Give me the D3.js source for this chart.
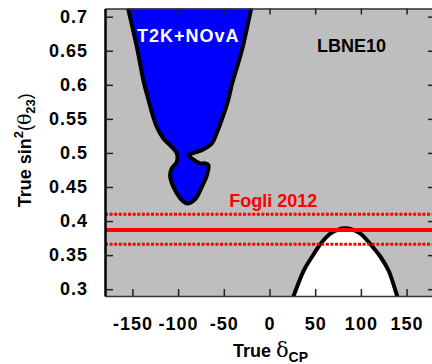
<!DOCTYPE html>
<html>
<head>
<meta charset="utf-8">
<script src="https://cdn.jsdelivr.net/npm/d3@7"></script>
<style>
  body { margin: 0; background: #fff; }
  text { font-family: "Liberation Sans", Arial, sans-serif; font-weight: bold; }
</style>
</head>
<body>
<svg width="432" height="364"></svg>
<script>
let svg = d3.select("svg");

// --- data ---
let x_ticks = [-150, -100, -50, 0, 50, 100, 150];
let y_ticks = [0.3, 0.35, 0.4, 0.45, 0.5, 0.55, 0.6, 0.65, 0.7];

// T2K+NOvA allowed region, [delta_cp, sin2theta23], clockwise from top-left
let t2k_nova = [
  [-156, 0.72], [-154.5, 0.7108], [-144.4, 0.6507], [-137.3, 0.6023],
  [-132.3, 0.5774], [-128.5, 0.5583], [-123.3, 0.5382], [-116.1, 0.5212],
  [-106.9, 0.5089], [-101.4, 0.4992], [-101.4, 0.4869], [-106.9, 0.4772],
  [-108.8, 0.4674], [-105.2, 0.4503], [-98.0, 0.4340], [-90.5, 0.4260],
  [-81.4, 0.4320], [-74.0, 0.4503], [-68.5, 0.4674], [-66.8, 0.4821],
  [-70.4, 0.4846], [-75.9, 0.4846], [-85.0, 0.4919], [-88.7, 0.4967],
  [-85.0, 0.4992], [-74.0, 0.5041], [-63.1, 0.5139], [-57.8, 0.5290],
  [-51.2, 0.5525], [-45.2, 0.5774], [-40.8, 0.6023], [-30.2, 0.6507],
  [-20.3, 0.7108], [-19, 0.72]
];

// LBNE10 white region (bottom right)
let lbne10 = [
  [23, 0.28], [26.3, 0.29], [37.3, 0.327], [46.5, 0.3476], [55.6, 0.366],
  [66, 0.381], [75, 0.3875], [83, 0.3895], [91, 0.3875], [100, 0.381],
  [110.4, 0.366], [121.4, 0.3476], [130.4, 0.327], [139.7, 0.29], [142.5, 0.28]
];

// Fogli 2012 best fit and band
let fogli_best = 0.387;
let fogli_band = [0.41, 0.366];

// --- scales ---
let x_scale = d3.scaleLinear().domain([-180, 180]).range([105, 434]);
let y_scale = d3.scaleLinear().domain([0.29, 0.712]).range([296, 8.5]);

let plot_left = x_scale.range()[0], plot_right = x_scale.range()[1];
let plot_top = y_scale.range()[1], plot_bottom = y_scale.range()[0];

svg.append("defs").append("clipPath")
  .attr("id", "plot-clip")
  .append("rect")
    .attr("x", plot_left).attr("y", plot_top)
    .attr("width", plot_right - plot_left).attr("height", plot_bottom - plot_top);

let plot = svg.append("g").attr("clip-path", "url(#plot-clip)");

plot.append("rect")
  .attr("x", plot_left).attr("y", plot_top)
  .attr("width", plot_right - plot_left).attr("height", plot_bottom - plot_top)
  .attr("fill", "#bebebe");

let line = d3.line()
  .x((d) => x_scale(d[0]))
  .y((d) => y_scale(d[1]))
  .curve(d3.curveCatmullRom.alpha(0.5));

// blue region, closed above the frame so the closing edge is clipped
plot.append("path")
  .attr("d", line(t2k_nova) + "L" + x_scale(-19) + "," + (plot_top - 30) + "L" + x_scale(-156) + "," + (plot_top - 30) + "Z")
  .attr("fill", "#0000ff")
  .attr("stroke", "black")
  .attr("stroke-width", 4)
  .attr("stroke-linejoin", "round");

plot.append("path")
  .attr("d", line(lbne10) + "Z")
  .attr("fill", "white")
  .attr("stroke", "black")
  .attr("stroke-width", 4)
  .attr("stroke-linejoin", "round");

plot.selectAll("line.band")
  .data(fogli_band)
  .enter().append("line")
    .attr("class", "band")
    .attr("x1", plot_left).attr("x2", plot_right)
    .attr("y1", (d) => y_scale(d)).attr("y2", (d) => y_scale(d))
    .attr("stroke", "#ff0000")
    .attr("stroke-width", 3)
    .attr("stroke-dasharray", "3,1.6");

plot.append("line")
  .attr("x1", plot_left).attr("x2", plot_right)
  .attr("y1", y_scale(fogli_best)).attr("y2", y_scale(fogli_best))
  .attr("stroke", "#ff0000")
  .attr("stroke-width", 4);

// labels inside the plot
svg.append("text")
  .attr("x", x_scale(-145)).attr("y", y_scale(0.6628))
  .attr("fill", "white")
  .style("font-size", "18px")
  .style("letter-spacing", "1px")
  .text("T2K+NOvA");

svg.append("text")
  .attr("x", x_scale(52)).attr("y", y_scale(0.6475))
  .attr("fill", "black")
  .style("font-size", "18px")
  .text("LBNE10");

svg.append("text")
  .attr("x", x_scale(-44)).attr("y", y_scale(0.4213))
  .attr("fill", "#ff0000")
  .style("font-size", "18px")
  .text("Fogli 2012");

// --- axes: ticks point inward, labels only bottom and left ---
let fmt = (d) => String(d);

let x_axis = svg.append("g")
  .attr("transform", "translate(0," + plot_bottom + ")")
  .call(d3.axisBottom(x_scale).tickValues(x_ticks).tickFormat(fmt)
    .tickSize(-7).tickSizeOuter(0).tickPadding(21));

let x_axis_top = svg.append("g")
  .attr("transform", "translate(0," + plot_top + ")")
  .call(d3.axisTop(x_scale).tickValues(x_ticks).tickFormat("")
    .tickSize(-6).tickSizeOuter(0));

let y_axis = svg.append("g")
  .attr("transform", "translate(" + plot_left + ",0)")
  .call(d3.axisLeft(y_scale).tickValues(y_ticks).tickFormat(fmt)
    .tickSize(-8).tickSizeOuter(0).tickPadding(17));

let y_axis_right = svg.append("g")
  .attr("transform", "translate(" + plot_right + ",0)")
  .call(d3.axisRight(y_scale).tickValues(y_ticks).tickFormat("")
    .tickSize(-6).tickSizeOuter(0));

svg.selectAll(".tick line").attr("stroke", "#222").attr("stroke-width", 1.5);
svg.selectAll(".domain").attr("stroke", "#333").attr("stroke-width", 1.5);
y_axis.select(".domain").attr("stroke", "black").attr("stroke-width", 2.5);

svg.selectAll(".tick text")
  .attr("fill", "black")
  .style("font-family", "'Liberation Sans', Arial, sans-serif")
  .style("font-weight", "bold")
  .style("font-size", "18px")
  .style("letter-spacing", "1px");

// axis titles
let x_title = svg.append("text")
  .attr("x", (plot_left + plot_right) / 2 + 1)
  .attr("y", 356.5)
  .attr("text-anchor", "middle")
  .style("font-size", "18px");
x_title.append("tspan").text("True ");
x_title.append("tspan")
  .style("font-family", "'DejaVu Serif', serif")
  .style("font-weight", "normal")
  .style("font-size", "21px")
  .text("δ");
x_title.append("tspan").attr("dy", 5).style("font-size", "14px").text("CP");

let y_title = svg.append("text")
  .attr("transform", "translate(31," + ((plot_top + plot_bottom) / 2 - 2) + ") rotate(-90)")
  .attr("text-anchor", "middle")
  .style("font-size", "18px");
y_title.append("tspan").text("True sin");
y_title.append("tspan").attr("dy", -8).style("font-size", "13px").text("2");
y_title.append("tspan").attr("dy", 8).style("font-weight", "normal").text("(");
y_title.append("tspan")
  .style("font-family", "'DejaVu Serif', serif")
  .style("font-weight", "normal")
  .style("font-size", "19px")
  .text("θ");
y_title.append("tspan").attr("dy", 4).style("font-size", "13px").text("23");
y_title.append("tspan").attr("dy", -4).style("font-weight", "normal").text(")");
</script>
</body>
</html>
